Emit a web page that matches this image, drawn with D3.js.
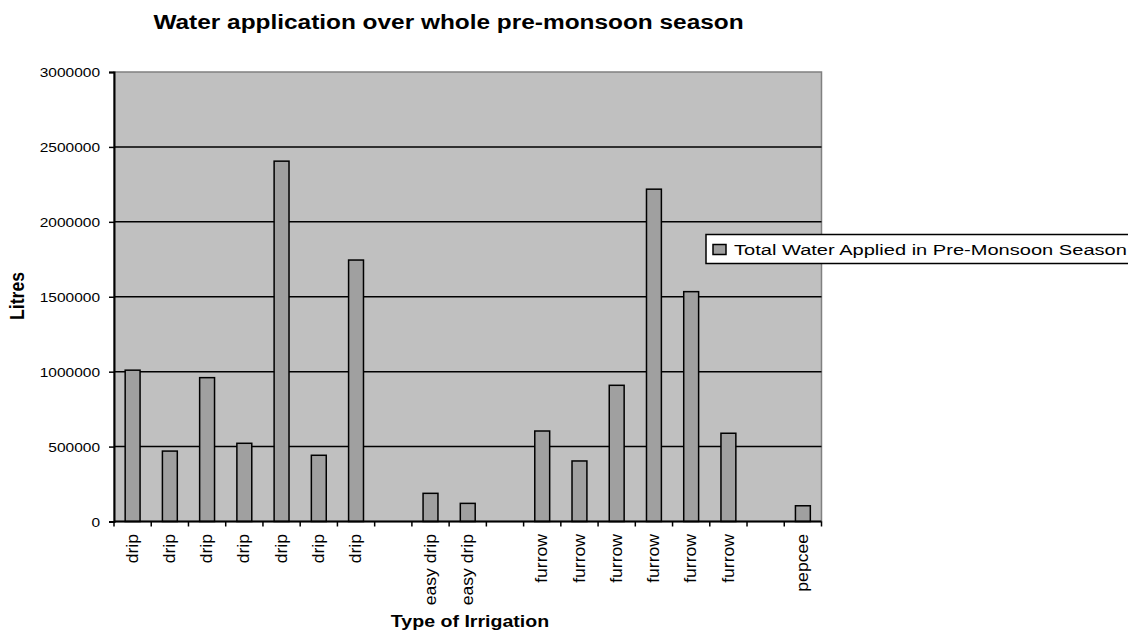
<!DOCTYPE html>
<html>
<head>
<meta charset="utf-8">
<script src="https://cdn.jsdelivr.net/npm/d3@7/dist/d3.min.js"></script>
<style>
  html, body { margin: 0; padding: 0; background: #fff; }
  svg { display: block; }
  text { font-family: "Liberation Sans", Arial, sans-serif; fill: #000; }
</style>
</head>
<body>
<svg id="chart" width="1128" height="638"></svg>
<script>
// Irrigation type of each plot; blank entries are spacer slots between groups
const categories = [
  "drip", "drip", "drip", "drip", "drip", "drip", "drip",
  "",
  "easy drip", "easy drip",
  "",
  "furrow", "furrow", "furrow", "furrow", "furrow", "furrow",
  "",
  "pepcee"
];

// Total water applied in the pre-monsoon season (litres)
const waterApplied = [
  1010000, 470000, 960000, 522000, 2405000, 442000, 1745000,
  null,
  188000, 121000,
  null,
  604000, 404000, 909000, 2218000, 1534000, 589000,
  null,
  105000
];

const yTicks = [0, 500000, 1000000, 1500000, 2000000, 2500000, 3000000];

const seriesName = "Total Water Applied in Pre-Monsoon Season";
const chartTitle = "Water application over whole pre-monsoon season";
const xTitle = "Type of Irrigation";
const yTitle = "Litres";

// ---- layout ----
const plot = { left: 114, right: 821.5, top: 72, bottom: 521.5 };
const SX = 1.24; // horizontal stretch used for horizontal text

const svg = d3.select("#chart");

const slots = categories.map((c, i) => i);
const x = d3.scaleBand()
  .domain(slots)
  .range([plot.left, plot.right])
  .paddingInner(0).paddingOuter(0);

const y = d3.scaleLinear()
  .domain([0, 3000000])
  .range([plot.bottom, plot.top]);

// plot background
svg.append("rect")
  .attr("x", plot.left).attr("y", plot.top)
  .attr("width", plot.right - plot.left)
  .attr("height", plot.bottom - plot.top)
  .attr("fill", "#c0c0c0")
  .attr("stroke", "#808080")
  .attr("stroke-width", 1.5);

// horizontal gridlines
svg.append("g")
  .selectAll("line")
  .data(yTicks.filter(v => v > 0 && v < 3000000))
  .join("line")
  .attr("x1", plot.left).attr("x2", plot.right)
  .attr("y1", d => y(d)).attr("y2", d => y(d))
  .attr("stroke", "#000")
  .attr("stroke-width", 1.5);

// bars
const barW = x.bandwidth() * 0.4;
svg.append("g")
  .selectAll("rect")
  .data(waterApplied.map((v, i) => ({ v, i })).filter(d => d.v != null))
  .join("rect")
  .attr("x", d => x(d.i) + (x.bandwidth() - barW) / 2)
  .attr("y", d => y(d.v))
  .attr("width", barW)
  .attr("height", d => y(0) - y(d.v))
  .attr("fill", "#a0a0a0")
  .attr("stroke", "#000")
  .attr("stroke-width", 1.5);

// y axis
const yAxis = svg.append("g")
  .attr("transform", `translate(${plot.left},0)`)
  .call(d3.axisLeft(y).tickValues(yTicks).tickSize(5).tickFormat(d3.format("d")));
yAxis.select(".domain").attr("stroke", "#000").attr("stroke-width", 2);
yAxis.selectAll(".tick line").attr("stroke", "#000").attr("stroke-width", 1.5);
yAxis.selectAll(".tick text")
  .attr("font-family", "Liberation Sans, Arial, sans-serif")
  .attr("font-size", 12.5)
  .attr("fill", "#000")
  .attr("x", -14 / SX)
  .attr("dy", "0.36em")
  .attr("transform", `scale(${SX},1)`);

// x axis baseline
svg.append("line")
  .attr("x1", plot.left).attr("x2", plot.right)
  .attr("y1", plot.bottom).attr("y2", plot.bottom)
  .attr("stroke", "#000").attr("stroke-width", 2);

// x tick marks on slot boundaries
const bounds = slots.map(i => x(i)).concat([x(slots[slots.length - 1]) + x.bandwidth()]);
svg.append("g")
  .selectAll("line")
  .data(bounds)
  .join("line")
  .attr("x1", d => d).attr("x2", d => d)
  .attr("y1", plot.bottom).attr("y2", plot.bottom + 5)
  .attr("stroke", "#000").attr("stroke-width", 1.5);

// category labels, rotated (slightly elongated along the text direction)
const LX = 1.1;
svg.append("g")
  .selectAll("text")
  .data(categories.map((c, i) => ({ c, i })).filter(d => d.c))
  .join("text")
  .attr("transform", d => `translate(${x(d.i) + x.bandwidth() / 2},${plot.bottom + 12.5}) rotate(-90) scale(${LX},1)`)
  .attr("text-anchor", "end")
  .attr("dy", "0.32em")
  .attr("font-size", 16)
  .text(d => d.c);

// title
svg.append("g")
  .attr("transform", `translate(448.5,29) scale(${SX * 1.01},1)`)
  .append("text")
  .attr("text-anchor", "middle")
  .attr("font-size", 19.5)
  .attr("font-weight", "bold")
  .text(chartTitle);

// x axis title
svg.append("g")
  .attr("transform", `translate(470,627) scale(${SX},1)`)
  .append("text")
  .attr("text-anchor", "middle")
  .attr("font-size", 15.8)
  .attr("font-weight", "bold")
  .text(xTitle);

// y axis title
svg.append("g")
  .attr("transform", `translate(24,296) scale(1.2,1) rotate(-90)`)
  .append("text")
  .attr("text-anchor", "middle")
  .attr("font-size", 17.6)
  .attr("font-weight", "bold")
  .text(yTitle);

// legend
const legend = svg.append("g");
legend.append("rect")
  .attr("x", 706).attr("y", 234.5)
  .attr("width", 440).attr("height", 29)
  .attr("fill", "#fff")
  .attr("stroke", "#000")
  .attr("stroke-width", 1.5);
legend.append("rect")
  .attr("x", 713).attr("y", 244.5)
  .attr("width", 13).attr("height", 10)
  .attr("fill", "#a0a0a0")
  .attr("stroke", "#000")
  .attr("stroke-width", 1.5);
legend.append("g")
  .attr("transform", `translate(734,254.5) scale(1.295,1)`)
  .append("text")
  .attr("font-size", 15.5)
  .text(seriesName);
</script>
</body>
</html>
